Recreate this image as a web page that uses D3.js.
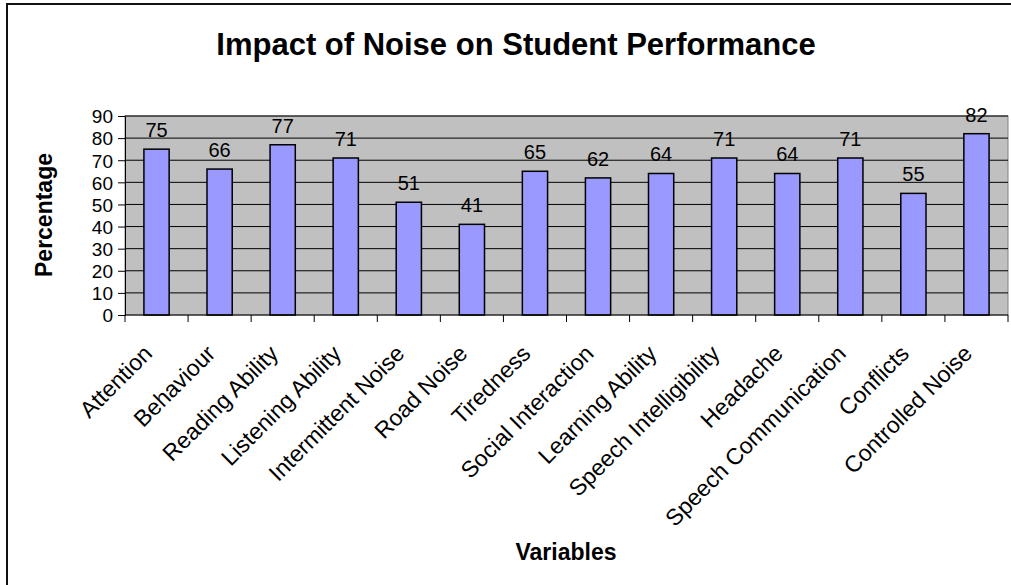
<!DOCTYPE html>
<html>
<head>
<meta charset="utf-8">
<script src="https://cdn.jsdelivr.net/npm/d3@7"></script>
<style>
  body { margin: 0; background: #fff; }
  text { font-family: "Liberation Sans", Arial, sans-serif; }
</style>
</head>
<body>
<svg width="1011" height="585"></svg>
<script>
const categories = ['Attention','Behaviour','Reading Ability','Listening Ability','Intermittent Noise',
  'Road Noise','Tiredness','Social Interaction','Learning Ability','Speech Intelligibility',
  'Headache','Speech Communication','Conflicts','Controlled Noise'];
const values = [75, 66, 77, 71, 51, 41, 65, 62, 64, 71, 64, 71, 55, 82];
const yTicks = [0, 10, 20, 30, 40, 50, 60, 70, 80, 90];

const svg = d3.select('svg');

// outer chart frame (runs off the right/bottom edge)
svg.append('rect')
  .attr('x', 7).attr('y', 4)
  .attr('width', 1100).attr('height', 700)
  .attr('fill', 'none')
  .attr('stroke', '#111')
  .attr('stroke-width', 2);

const plotLeft = 125, plotRight = 1008, plotTop = 116, plotBottom = 315;

const x = d3.scaleBand()
  .domain(categories)
  .range([plotLeft, plotRight])
  .paddingInner(0.6)
  .paddingOuter(0.3);

const y = d3.scaleLinear()
  .domain([0, 90])
  .range([plotBottom, plotTop]);

// plot area
svg.append('rect')
  .attr('x', plotLeft).attr('y', plotTop)
  .attr('width', plotRight - plotLeft).attr('height', plotBottom - plotTop)
  .attr('fill', '#c0c0c0')
  .attr('stroke', '#808080');

// gridlines
svg.append('g')
  .selectAll('line')
  .data(yTicks.slice(1))
  .join('line')
  .attr('x1', plotLeft).attr('x2', plotRight)
  .attr('y1', d => y(d)).attr('y2', d => y(d))
  .attr('stroke', '#000');

// bars
svg.append('g')
  .selectAll('rect')
  .data(values)
  .join('rect')
  .attr('x', (d, i) => x(categories[i]))
  .attr('y', d => y(d))
  .attr('width', x.bandwidth())
  .attr('height', d => plotBottom - y(d))
  .attr('fill', '#9999ff')
  .attr('stroke', '#000')
  .attr('stroke-width', 1.5);

// value labels
svg.append('g')
  .selectAll('text')
  .data(values)
  .join('text')
  .attr('x', (d, i) => x(categories[i]) + x.bandwidth() / 2)
  .attr('y', d => y(d) - 12)
  .attr('text-anchor', 'middle')
  .style('font-size', '20px')
  .text(d => d);

// y axis
const yAxis = svg.append('g')
  .attr('transform', `translate(${plotLeft},0)`)
  .call(d3.axisLeft(y).tickValues(yTicks).tickSize(7).tickPadding(5));
yAxis.select('.domain').attr('stroke', '#000');
yAxis.selectAll('text')
  .style('font-size', '19px')
  .attr('fill', '#000')
  .attr('dy', '0.36em');

// x axis: ticks at band boundaries
const step = (plotRight - plotLeft) / categories.length;
svg.append('line')
  .attr('x1', plotLeft).attr('x2', plotRight)
  .attr('y1', plotBottom).attr('y2', plotBottom)
  .attr('stroke', '#000');
svg.append('g')
  .selectAll('line')
  .data(d3.range(categories.length + 1))
  .join('line')
  .attr('x1', i => plotLeft + i * step).attr('x2', i => plotLeft + i * step)
  .attr('y1', plotBottom).attr('y2', plotBottom + 7)
  .attr('stroke', '#000');

// category labels
svg.append('g')
  .selectAll('text')
  .data(categories)
  .join('text')
  .attr('transform', d => `translate(${x(d) + x.bandwidth() / 2 - 3},${plotBottom + 40}) rotate(-45)`)
  .attr('text-anchor', 'end')
  .style('font-size', '23px')
  .text(d => d);

// titles
svg.append('text')
  .attr('x', 516).attr('y', 55)
  .attr('text-anchor', 'middle')
  .style('font-size', '31px')
  .style('font-weight', 'bold')
  .text('Impact of Noise on Student Performance');

svg.append('text')
  .attr('transform', 'translate(52,215) rotate(-90)')
  .attr('text-anchor', 'middle')
  .style('font-size', '23px')
  .style('font-weight', 'bold')
  .text('Percentage');

svg.append('text')
  .attr('x', 566).attr('y', 560)
  .attr('text-anchor', 'middle')
  .style('font-size', '23px')
  .style('font-weight', 'bold')
  .text('Variables');
</script>
</body>
</html>
